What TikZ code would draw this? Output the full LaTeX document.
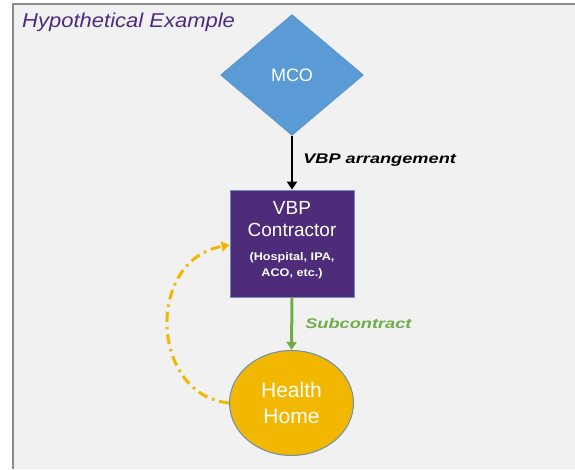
\documentclass[tikz,border=0pt]{standalone}
\usepackage{fontspec}
\setmainfont{Liberation Sans}
\usetikzlibrary{shapes.geometric,arrows.meta}
\definecolor{bgc}{HTML}{F1F1F1}
\definecolor{framec}{HTML}{8C8C8C}
\definecolor{mcoc}{HTML}{5B9BD5}
\definecolor{vbpc}{HTML}{4E2C7A}
\definecolor{hhc}{HTML}{F2B700}
\definecolor{titlec}{HTML}{4B2C7F}
\definecolor{greenc}{HTML}{70AD47}
\definecolor{edgec}{HTML}{6E8FB5}
\tikzset{
  mcostyle/.style={diamond, fill=mcoc, draw=mcoc!90!black, line width=0.4pt, minimum width=143pt, minimum height=121pt, inner sep=0pt, aspect=1.18, text=white, font=\fontsize{18}{20}\selectfont},
  boxstyle/.style={rectangle, fill=vbpc, draw=edgec, line width=0.8pt, minimum width=124pt, minimum height=107pt, inner sep=0pt, text=white, align=center},
  hhstyle/.style={ellipse, fill=hhc, draw=edgec, line width=1pt, minimum width=124pt, minimum height=105pt, inner sep=0pt, text=white, align=center, font=\fontsize{21}{26}\selectfont},
  lbl/.style={font=\bfseries\itshape\fontsize{14}{16}\selectfont, anchor=west, inner sep=0pt},
}
\begin{document}
\begin{tikzpicture}[x=1pt,y=-1pt]
\useasboundingbox (0,0) rectangle (575,469);
\fill[white] (0,0) rectangle (575,469);
\fill[bgc] (13,4) rectangle (575,469);
\draw[framec, line width=1.2pt] (13,469) -- (13,4) -- (575,4);
\node[font=\itshape\fontsize{20}{22}\selectfont, text=titlec, anchor=west, inner sep=0pt, xscale=1.1] (title) at (22,22) {Hypothetical Example};
\node[mcostyle] (mco) at (292,75) {MCO};
\node[boxstyle] (vbp) at (292,243.5) {};
\node[text=white, align=center, font=\fontsize{19}{22}\selectfont, inner sep=0pt] (vbptxt) at (292,219) {VBP\\Contractor};
\node[text=white, align=center, font=\bfseries\fontsize{11}{16}\selectfont, inner sep=0pt, xscale=1.15] (vbpsub) at (292,266) {(Hospital, IPA,\\ACO, etc.)};
\node[hhstyle] (hh) at (291.5,403) {Health\\Home};
\draw[black, line width=2.5pt, -{Triangle[width=10pt,length=8pt]}] (mco.south) -- (vbp.north);
\node[lbl, text=black, xscale=1.3] (arr) at (303,160) {VBP arrangement};
\draw[greenc, line width=3pt, -{Triangle[width=10pt,length=8pt]}] (vbp.south) -- (hh.north);
\node[lbl, text=greenc, xscale=1.3] (sub) at (305,323) {Subcontract};
\draw[hhc, line width=3pt, dash pattern=on 10pt off 5pt on 2.5pt off 5pt, -{Triangle[width=10pt,length=8pt]}] (hh.west) .. controls (150,395) and (145,260) .. (vbp.west |- 0,245);
\end{tikzpicture}
\end{document}
